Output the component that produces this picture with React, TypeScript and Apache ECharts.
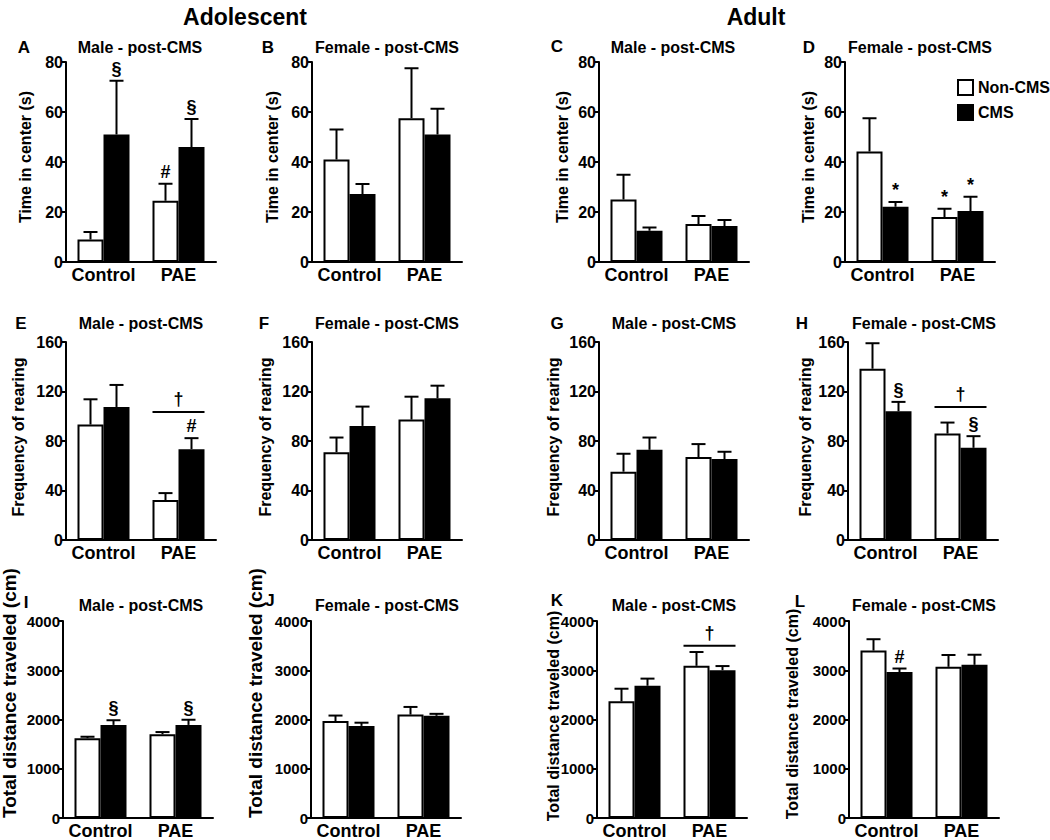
import React, { useEffect, useRef } from "react";
import * as echarts from "echarts";

// ---------- data ----------
const categories = ["Control", "PAE"];
const seriesNames = ["Non-CMS", "CMS"];
const panelLetters = ["A", "B", "C", "D", "E", "F", "G", "H", "I", "J", "K", "L"];
const panelTitles = [
  "Male - post-CMS", "Female - post-CMS", "Male - post-CMS", "Female - post-CMS",
  "Male - post-CMS", "Female - post-CMS", "Male - post-CMS", "Female - post-CMS",
  "Male - post-CMS", "Female - post-CMS", "Male - post-CMS", "Female - post-CMS",
];
const groupHeaders = ["Adolescent", "Adult"];
const rowYNames = ["Time in center (s)", "Frequency of rearing", "Total distance traveled (cm)"];
const rowYMax = [80, 160, 4000];
const rowYInterval = [20, 40, 1000];

// [Control, PAE] per panel A..L
const nonCmsMean = [
  [9, 24.5], [41, 57.5], [25, 15.2], [44.2, 18],
  [93.3, 32.3], [71, 97.3], [55.2, 67], [138.4, 86],
  [1620, 1700], [1970, 2100], [2370, 3090], [3400, 3070],
];
const nonCmsUpper = [
  [12, 31.3], [53, 77.5], [34.9, 18.4], [57.5, 21.3],
  [113.7, 37.9], [82.8, 115.8], [69.7, 77.5], [159, 94.9],
  [1650, 1745], [2080, 2255], [2625, 3370], [3630, 3310],
];
const cmsMean = [
  [51, 46], [27.2, 51], [12.5, 14.4], [22.1, 20.4],
  [107.5, 73.4], [92.2, 114.5], [72.9, 65.4], [104, 74.5],
  [1890, 1890], [1870, 2075], [2685, 3000], [2965, 3110],
];
const cmsUpper = [
  [72.5, 57.2], [31.2, 61.3], [13.8, 16.8], [24, 26.1],
  [125.3, 82.3], [107.8, 124.7], [82.8, 71.3], [111.6, 83.9],
  [1985, 1995], [1935, 2115], [2830, 3085], [3035, 3315],
];
const nonCmsMarks = [
  ["", "#"], ["", ""], ["", ""], ["", "*"],
  ["", ""], ["", ""], ["", ""], ["", ""],
  ["", ""], ["", ""], ["", ""], ["", ""],
];
const cmsMarks = [
  ["§", "§"], ["", ""], ["", ""], ["*", "*"],
  ["", "#"], ["", ""], ["", ""], ["§", "§"],
  ["§", "§"], ["", ""], ["", ""], ["#", ""],
];
const groupLinePanels = [4, 7, 10];
const groupLineCats = [1, 1, 1];
const groupLineValues = [103.5, 107.5, 3500];
const groupLineMarks = ["†", "†", "†"];

// ---------- layout ----------
const FONT = "'Liberation Sans', Arial, Helvetica, sans-serif";
const BAR_W = 26;
const CAP_W = 14;
const gridLeft = [66, 312, 599, 845, 66, 312, 599, 848, 63, 311, 597, 849];
const gridWidth = 150;
const rowTop = [62, 342, 621];
const rowHeight = [200, 198, 198];
const titleX = [140, 387, 673, 920, 141, 387, 674, 924, 141, 387, 674, 924];
const titleY = [47, 323, 605];
const letterX = [24, 268, 557, 809, 21, 264, 557, 802, 26, 270, 557, 800];
const letterY = [47, 47, 46, 47, 323, 323, 323, 323, 602, 600, 600, 601];
const yNameX = [25, 272, 562, 808, 18, 265, 553, 805, 9, 255, 553, 792];
const yNameY = [157, 157, 157, 157, 437, 437, 437, 437, 693, 693, 716, 714];
const yNameSize = [16, 16, 16, 16, 16, 16, 16, 16, 19, 19, 16, 16];
const tickFont = [16, 16, 15];
const headerX = [245, 756];
const headerY = 17;

function buildOption() {
  const grids: any[] = [];
  const xAxes: any[] = [];
  const yAxes: any[] = [];
  const series: any[] = [];
  const graphics: any[] = [];

  panelLetters.forEach((letter, i) => {
    const row = Math.floor(i / 4);
    grids.push({ left: gridLeft[i], top: rowTop[row], width: gridWidth, height: rowHeight[row] });
    xAxes.push({
      type: "category",
      gridIndex: i,
      data: categories,
      axisLine: { lineStyle: { color: "#000", width: 2 } },
      axisTick: { show: false },
      axisLabel: { interval: 0, color: "#000", fontSize: 18, fontWeight: "bold", fontFamily: FONT, margin: 4 },
    });
    yAxes.push({
      type: "value",
      gridIndex: i,
      min: 0,
      max: rowYMax[row],
      interval: rowYInterval[row],
      splitLine: { show: false },
      axisLine: { show: true, lineStyle: { color: "#000", width: 2 } },
      axisTick: { show: true, length: 4, lineStyle: { color: "#000", width: 2 } },
      axisLabel: {
        color: "#000", fontSize: tickFont[row], fontWeight: "bold", fontFamily: FONT, margin: 3,
        formatter: (v: number) => String(v),
      },
    });

    series.push({
      type: "bar",
      name: seriesNames[0],
      xAxisIndex: i,
      yAxisIndex: i,
      barWidth: BAR_W,
      barGap: "0%",
      data: nonCmsMean[i],
      itemStyle: { color: "#fff", borderColor: "#000", borderWidth: 2 },
    });
    series.push({
      type: "bar",
      name: seriesNames[1],
      xAxisIndex: i,
      yAxisIndex: i,
      barWidth: BAR_W,
      barGap: "0%",
      data: cmsMean[i],
      itemStyle: { color: "#000", borderColor: "#000", borderWidth: 2 },
    });

    const items: any[] = [];
    categories.forEach((_, c) => {
      items.push({ cat: c, s: 0, mean: nonCmsMean[i][c], top: nonCmsUpper[i][c], mark: nonCmsMarks[i][c] });
      items.push({ cat: c, s: 1, mean: cmsMean[i][c], top: cmsUpper[i][c], mark: cmsMarks[i][c] });
    });
    series.push({
      type: "custom",
      xAxisIndex: i,
      yAxisIndex: i,
      silent: true,
      data: items.map((it) => [it.cat, it.mean, it.top]),
      encode: { x: 0, y: [1, 2] },
      renderItem: (params: any, api: any) => {
        const it = items[params.dataIndex];
        const base = api.coord([it.cat, it.mean]);
        const tip = api.coord([it.cat, it.top]);
        const x = base[0] + (it.s === 0 ? -BAR_W / 2 : BAR_W / 2);
        const children: any[] = [
          { type: "line", shape: { x1: x, y1: base[1], x2: x, y2: tip[1] }, style: { stroke: "#000", lineWidth: 2 } },
          { type: "line", shape: { x1: x - CAP_W / 2, y1: tip[1], x2: x + CAP_W / 2, y2: tip[1] }, style: { stroke: "#000", lineWidth: 2 } },
        ];
        if (it.mark) {
          children.push({
            type: "text",
            style: {
              text: it.mark, x, y: tip[1] - 3,
              align: "center", verticalAlign: "bottom",
              textAlign: "center", textVerticalAlign: "bottom",
              font: `bold 18px ${FONT}`, fill: "#000",
            },
          });
        }
        return { type: "group", children };
      },
    });

    const gl = groupLinePanels.indexOf(i);
    if (gl >= 0) {
      series.push({
        type: "custom",
        xAxisIndex: i,
        yAxisIndex: i,
        silent: true,
        data: [[groupLineCats[gl], groupLineValues[gl]]],
        renderItem: (params: any, api: any) => {
          const p = api.coord([api.value(0), api.value(1)]);
          return {
            type: "group",
            children: [
              { type: "line", shape: { x1: p[0] - BAR_W, y1: p[1], x2: p[0] + BAR_W, y2: p[1] }, style: { stroke: "#000", lineWidth: 2 } },
              {
                type: "text",
                style: {
                  text: groupLineMarks[gl], x: p[0], y: p[1] - 4,
                  align: "center", verticalAlign: "bottom",
                  textAlign: "center", textVerticalAlign: "bottom",
                  font: `bold 18px ${FONT}`, fill: "#000",
                },
              },
            ],
          };
        },
      });
    }

    graphics.push({
      type: "text", x: titleX[i], y: titleY[row],
      style: { text: panelTitles[i], font: `bold 16px ${FONT}`, fill: "#000", textAlign: "center", textVerticalAlign: "middle" },
    });
    graphics.push({
      type: "text", x: letterX[i], y: letterY[i],
      style: { text: letter, font: `bold 17px ${FONT}`, fill: "#000", textAlign: "center", textVerticalAlign: "middle" },
    });
    graphics.push({
      type: "text", x: yNameX[i], y: yNameY[i], rotation: Math.PI / 2,
      style: { text: rowYNames[row], font: `bold ${yNameSize[i]}px ${FONT}`, fill: "#000", textAlign: "center", textVerticalAlign: "middle" },
    });
  });

  groupHeaders.forEach((h, k) => {
    graphics.push({
      type: "text", x: headerX[k], y: headerY,
      style: { text: h, font: `bold 23px ${FONT}`, fill: "#000", textAlign: "center", textVerticalAlign: "middle" },
    });
  });

  return {
    animation: false,
    backgroundColor: "#fff",
    grid: grids,
    xAxis: xAxes,
    yAxis: yAxes,
    series,
    graphic: graphics,
    legend: {
      data: seriesNames,
      orient: "vertical",
      left: 952,
      top: 74,
      itemWidth: 15,
      itemHeight: 15,
      itemGap: 8,
      icon: "rect",
      selectedMode: false,
      textStyle: { color: "#000", fontSize: 16, fontWeight: "bold", fontFamily: FONT },
    },
  };
}

export default function App() {
  const ref = useRef<HTMLDivElement>(null);
  useEffect(() => {
    if (!ref.current) return;
    const chart = echarts.init(ref.current, undefined, { renderer: "svg" });
    chart.setOption(buildOption() as any);
    return () => chart.dispose();
  }, []);
  return (
    <div
      ref={ref}
      style={{ position: "absolute", left: 0, top: 0, width: 1050, height: 840, background: "#fff" }}
    />
  );
}
